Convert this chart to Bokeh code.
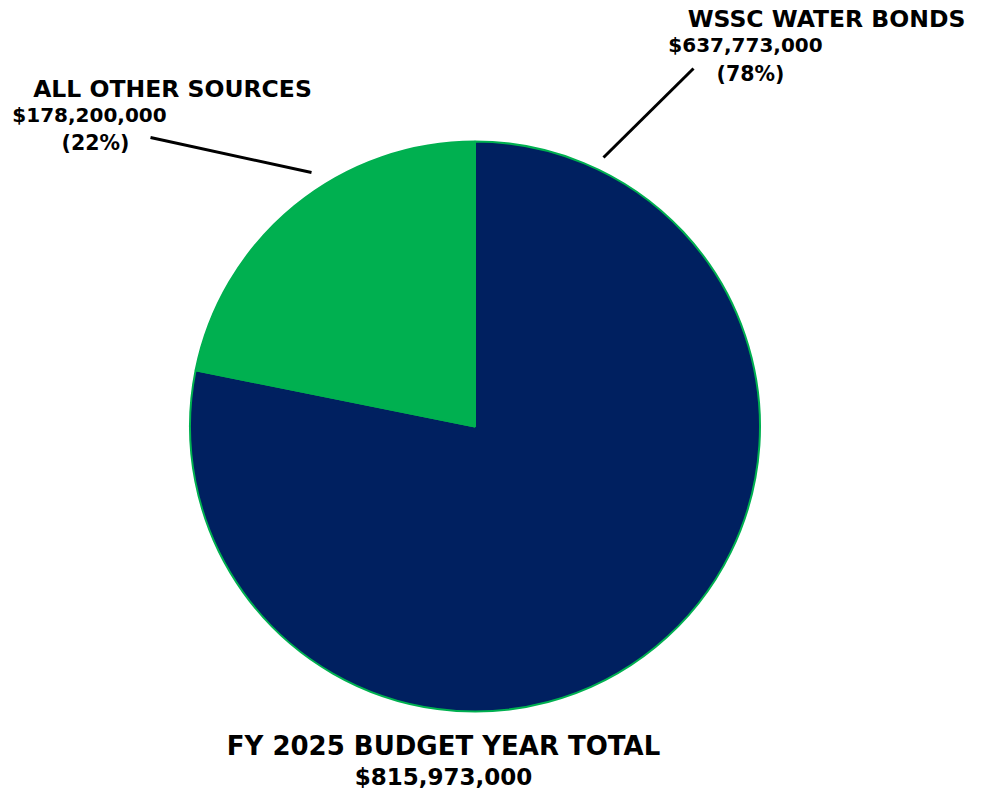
from bokeh.plotting import figure
from bokeh.models import Range1d, ColumnDataSource
from bokeh.core.properties import value
from bokeh.embed import file_html
from bokeh.resources import INLINE
import math

categories = ["WSSC WATER BONDS", "ALL OTHER SOURCES"]
amounts = [637773000, 178200000]
amount_labels = ["$637,773,000", "$178,200,000"]
pct_labels = ["(78%)", "(22%)"]
total_title = "FY 2025 BUDGET YEAR TOTAL"
total_label = "$815,973,000"

W, H = 983, 795
p = figure(width=W, height=H, output_backend="svg", toolbar_location=None,
           x_range=Range1d(0, W), y_range=Range1d(0, H), min_border=0)
p.axis.visible = False
p.grid.visible = False
p.outline_line_color = None
p.background_fill_color = "white"

def Y(py):
    return H - py

cx, cy, r = 474.5, Y(426), 285
total = sum(amounts)
colors = ["#002060", "#00B050"]
start = math.pi / 2
frac0 = amounts[0] / total
p.wedge(x=cx, y=cy, radius=r, start_angle=start, end_angle=start - 2 * math.pi * frac0,
        direction="clock", fill_color=colors[0], line_color="#00B050", line_width=2)
p.wedge(x=cx, y=cy, radius=r, start_angle=start - 2 * math.pi * frac0, end_angle=start - 2 * math.pi,
        direction="clock", fill_color=colors[1], line_color="#00B050", line_width=2)

p.line(x=[603, 693], y=[Y(157), Y(68)], line_color="black", line_width=3)
p.line(x=[150, 311], y=[Y(137), Y(172)], line_color="black", line_width=3)

font = value("DejaVu Sans")
def txt(x, y, s, size):
    p.text(x=[x], y=[Y(y)], text=[s], text_font=font, text_font_style="bold",
           text_font_size=size, text_align="center", text_baseline="middle", text_color="black")

txt(826, 18, categories[0], "23.5px")
txt(745, 44, amount_labels[0], "20px")
txt(750, 73, pct_labels[0], "20.5px")
txt(172, 88, categories[1], "23.5px")
txt(89, 114, amount_labels[1], "20px")
txt(95, 142, pct_labels[1], "20.5px")
txt(443, 745, total_title, "26px")
txt(443, 776, total_label, "23px")

open("out.html", "w").write(file_html(p, INLINE))
